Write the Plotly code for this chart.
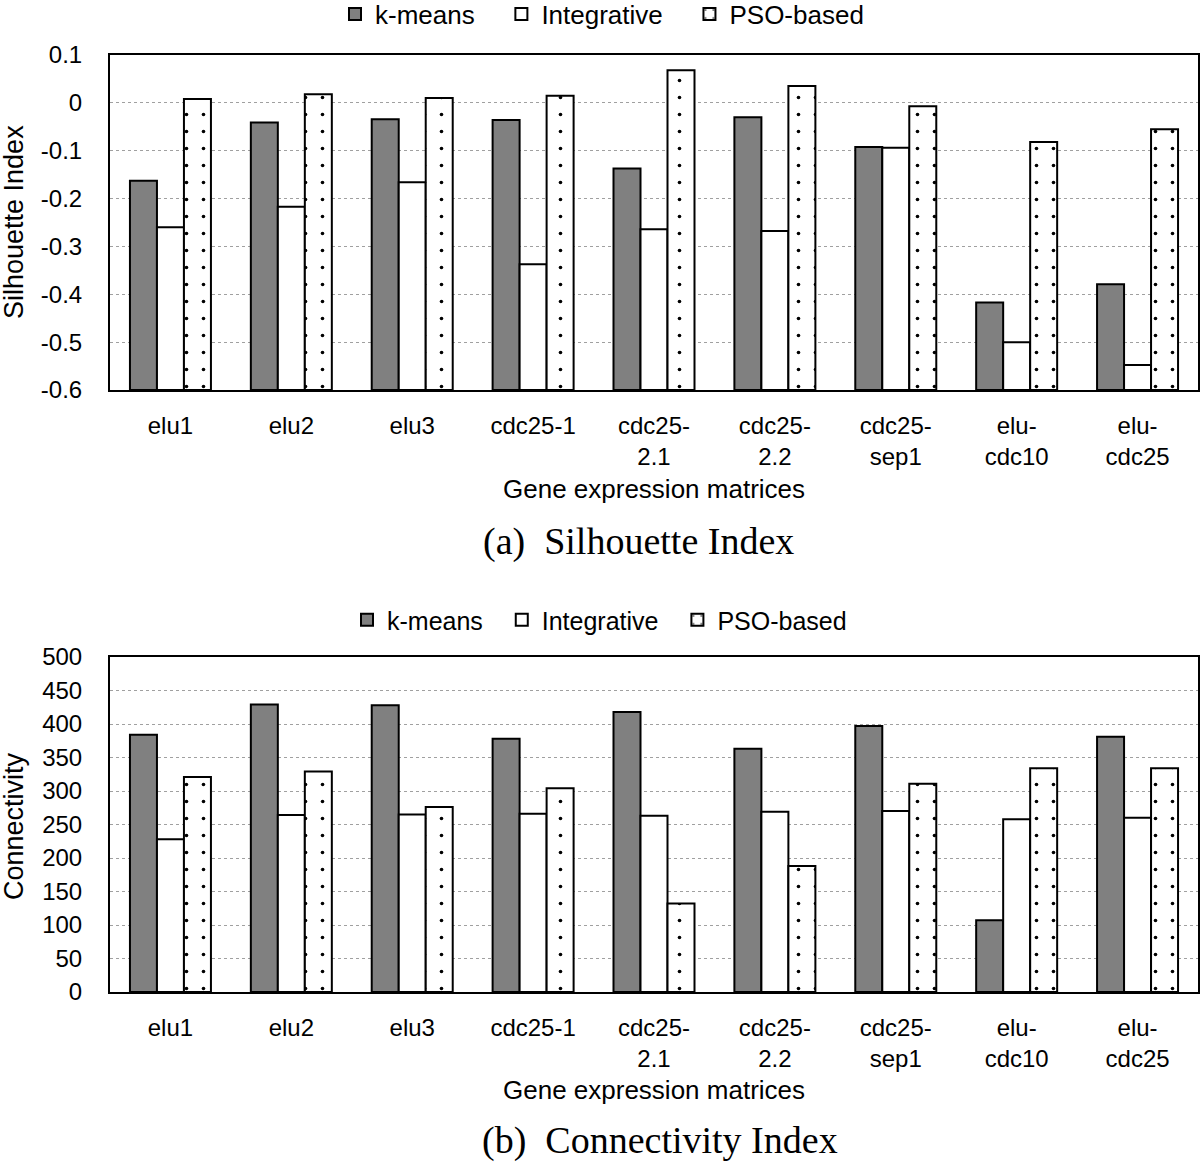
import plotly.graph_objects as go

categories = ["elu1", "elu2", "elu3", "cdc25-1", "cdc25-2.1", "cdc25-2.2", "cdc25-sep1", "elu-cdc10", "elu-cdc25"]
tick_labels = ["elu1", "elu2", "elu3", "cdc25-1", "cdc25-<br>2.1", "cdc25-<br>2.2", "cdc25-<br>sep1", "elu-<br>cdc10", "elu-<br>cdc25"]
series_names = ["k-means", "Integrative", "PSO-based"]

sil_kmeans = [-0.163, -0.041, -0.034, -0.036, -0.137, -0.030, -0.092, -0.417, -0.379]
sil_integrative = [-0.260, -0.217, -0.166, -0.337, -0.264, -0.268, -0.094, -0.500, -0.548]
sil_pso = [0.008, 0.018, 0.010, 0.015, 0.068, 0.035, -0.007, -0.082, -0.055]

con_kmeans = [384, 429, 428, 378, 418, 363, 397, 107, 381]
con_integrative = [228, 264, 265, 266, 263, 269, 270, 258, 260]
con_pso = [321, 329, 276, 304, 132, 188, 311, 334, 334]

sil_range = [-0.6, 0.1]
sil_ticks = [0.1, 0, -0.1, -0.2, -0.3, -0.4, -0.5, -0.6]
sil_ticktext = ["0.1", "0", "-0.1", "-0.2", "-0.3", "-0.4", "-0.5", "-0.6"]
con_range = [0, 500]
con_ticks = [500, 450, 400, 350, 300, 250, 200, 150, 100, 50, 0]
con_ticktext = [str(v) for v in con_ticks]

FONT = "Liberation Sans, Arial, sans-serif"
SERIF = "Liberation Serif, Times New Roman, serif"
W, H = 1200, 1163

def py(px):
    return 1 - px / H

styles = [
    dict(marker=dict(color="#808080", line=dict(color="black", width=2))),
    dict(marker=dict(color="white", line=dict(color="black", width=2))),
    dict(marker=dict(color="white", line=dict(color="black", width=2),
                     pattern=dict(shape=".", fgcolor="black", bgcolor="white", fgopacity=1,
                                  size=17, solidity=0.035, fillmode="overlay"))),
]
pad_top = "\u00a0\u00a0\u00a0"
pad_bot = "\u00a0\u00a0"
names_top = [series_names[0] + pad_top, series_names[1] + pad_top, series_names[2]]
names_bot = [series_names[0] + pad_bot, series_names[1] + pad_bot, series_names[2]]

fig = go.Figure()
# Silhouette bars are drawn upward from the bottom of the axis (-0.6), as in the original
sil_base = sil_range[0]
for name, vals, st in zip(names_top, [sil_kmeans, sil_integrative, sil_pso], styles):
    fig.add_trace(go.Bar(x=categories, y=[v - sil_base for v in vals], base=sil_base,
                         customdata=vals, hovertemplate="%{customdata}",
                         name=name, xaxis="x", yaxis="y", legend="legend", **st))
for name, vals, st in zip(names_bot, [con_kmeans, con_integrative, con_pso], styles):
    fig.add_trace(go.Bar(x=categories, y=vals, name=name, xaxis="x2", yaxis="y2",
                         legend="legend2", **st))

xdom = [110 / W, 1198 / W]
common_x = dict(domain=xdom, tickmode="array", tickvals=categories, ticktext=tick_labels,
                showline=True, linecolor="black", linewidth=2, mirror=True, automargin=False,
                ticks="", showgrid=False, tickfont=dict(size=24, color="black", family=FONT),
                ticklabelstandoff=13, tickangle=0)
common_y = dict(showline=True, linecolor="black", linewidth=2, mirror=True, ticks="",
                showgrid=True, gridcolor="#a0a0a0", griddash="dot", gridwidth=1, automargin=False,
                zeroline=False, tickfont=dict(size=24, color="black", family=FONT),
                ticklabelstandoff=21, tickmode="array")

leg = dict(orientation="h", xanchor="left", yanchor="middle", bgcolor="rgba(0,0,0,0)",
           itemwidth=30, tracegroupgap=0)

fig.update_layout(
    width=W, height=H, margin=dict(l=0, r=0, t=0, b=0, autoexpand=False),
    plot_bgcolor="white", paper_bgcolor="white",
    barmode="group", bargap=0.33, bargroupgap=0,
    font=dict(family=FONT, color="black", size=24),
    xaxis=dict(anchor="y", **common_x),
    yaxis=dict(domain=[py(390), py(55)], anchor="x", range=sil_range,
               tickvals=sil_ticks, ticktext=sil_ticktext, **common_y),
    xaxis2=dict(anchor="y2", **common_x),
    yaxis2=dict(domain=[py(992), py(657)], anchor="x2", range=con_range,
                tickvals=con_ticks, ticktext=con_ticktext, **common_y),
    legend=dict(x=335 / W, y=py(14), font=dict(size=26, family=FONT, color="black"), **leg),
    legend2=dict(x=347 / W, y=py(620), font=dict(size=25, family=FONT, color="black"), **leg),
    annotations=[
        dict(text="Silhouette Index", x=14 / W, y=py(222), xref="paper", yref="paper",
             textangle=-90, showarrow=False, xanchor="center", yanchor="middle",
             font=dict(size=27, family=FONT)),
        dict(text="Connectivity", x=14 / W, y=py(826), xref="paper", yref="paper",
             textangle=-90, showarrow=False, xanchor="center", yanchor="middle",
             font=dict(size=27, family=FONT)),
        dict(text="Gene expression matrices", x=654 / W, y=py(489), xref="paper", yref="paper",
             showarrow=False, xanchor="center", yanchor="middle", font=dict(size=26, family=FONT)),
        dict(text="Gene expression matrices", x=654 / W, y=py(1090), xref="paper", yref="paper",
             showarrow=False, xanchor="center", yanchor="middle", font=dict(size=26, family=FONT)),
        dict(text="(a)\u00a0 Silhouette Index", x=638 / W, y=py(541), xref="paper", yref="paper",
             showarrow=False, xanchor="center", yanchor="middle", font=dict(size=38, family=SERIF)),
        dict(text="(b)\u00a0 Connectivity Index", x=660 / W, y=py(1140), xref="paper", yref="paper",
             showarrow=False, xanchor="center", yanchor="middle", font=dict(size=38, family=SERIF)),
    ],
)

fig.write_html("out.html", config={"displayModeBar": False},
               post_script="document.body.style.margin='0';document.body.style.padding='0';")
